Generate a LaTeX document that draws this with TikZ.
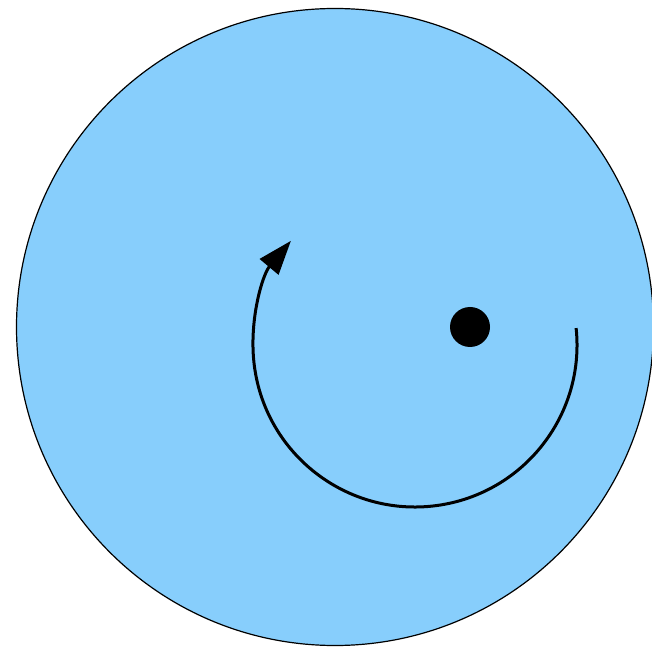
\documentclass[tikz,border=0pt]{standalone}
\usetikzlibrary{arrows.meta,calc}
\definecolor{skyfill}{HTML}{87CEFC}
\tikzset{
  disc/.style={circle, draw=black, line width=1.2pt, fill=skyfill, inner sep=0pt, minimum size=637pt},
  dot/.style={circle, fill=black, inner sep=0pt, minimum size=40pt},
  turn/.style={line width=3pt, -{Triangle[length=34pt,width=24pt]}}
}
\begin{document}
\begin{tikzpicture}[x=1pt,y=1pt]
\useasboundingbox (0,0) rectangle (652,648);
\node[disc] (big) at (335,321) {};
\node[dot] (pivot) at (470,321) {};
\coordinate (arcstart) at ($(415,303)+(6:162)$);
\draw[turn] (arcstart) arc[start angle=6, end angle=-220, radius=162];
\end{tikzpicture}
\end{document}
